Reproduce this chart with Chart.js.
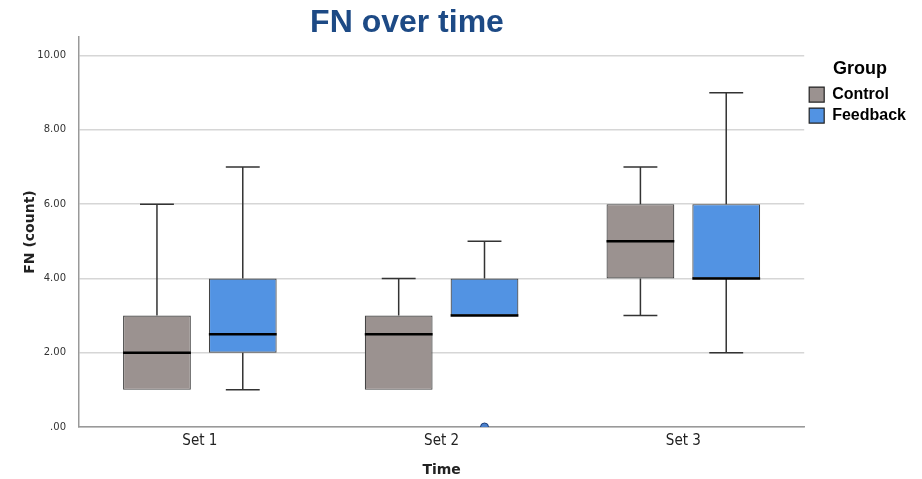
<!DOCTYPE html>
<html>
<head>
<meta charset="utf-8">
<script src="https://cdn.jsdelivr.net/npm/chart.js@4.4.1/dist/chart.umd.min.js"></script>
<style>
  body { margin: 0; background: #fff; }
  #wrap { position: relative; width: 922px; height: 479px; }
  #titre { position: absolute; left: 0; top: 3px; width: 814px; text-align: center;
           font: bold 32px "Liberation Sans", Arial, sans-serif; color: #1d4a85; }
</style>
</head>
<body>
<div id="wrap">
  <div id="titre">FN over time</div>
  <canvas id="boxCanvas" width="922" height="479"></canvas>
</div>
<script>
// Categories et groupes
const categories = ['Set 1', 'Set 2', 'Set 3'];
const groups = ['Control', 'Feedback'];
const groupColors = ['#9b9290', '#5293e3'];

// Statistiques des boites (min, q1, mediane, q3, max) par groupe
const controlMin = [1, 1, 3];
const controlQ1 = [1, 1, 4];
const controlMedian = [2, 2.5, 5];
const controlQ3 = [3, 3, 6];
const controlMax = [6, 4, 7];

const feedbackMin = [1, 3, 2];
const feedbackQ1 = [2, 3, 4];
const feedbackMedian = [2.5, 3, 4];
const feedbackQ3 = [4, 4, 6];
const feedbackMax = [7, 5, 9];

// Valeurs aberrantes : [groupe, categorie, valeur]
const outliers = [[1, 1, 0]];

const yTicks = [0, 2, 4, 6, 8, 10];

const stats = [
  { min: controlMin, q1: controlQ1, med: controlMedian, q3: controlQ3, max: controlMax },
  { min: feedbackMin, q1: feedbackQ1, med: feedbackMedian, q3: feedbackQ3, max: feedbackMax }
];

// Plugin qui dessine moustaches, medianes et points aberrants
const boxPlotPlugin = {
  id: 'boxPlot',
  afterDatasetsDraw(chart) {
    const ctx = chart.ctx;
    const y = chart.scales.y;
    ctx.save();
    chart.data.datasets.forEach((ds, d) => {
      const meta = chart.getDatasetMeta(d);
      const s = stats[d];
      meta.data.forEach((bar, i) => {
        const x = bar.x;
        const half = bar.width / 2;
        const cap = bar.width / 4;
        ctx.strokeStyle = '#333';
        ctx.lineWidth = 1.5;
        ctx.beginPath();
        // moustache haute
        if (s.max[i] > s.q3[i]) {
          ctx.moveTo(x, y.getPixelForValue(s.q3[i]));
          ctx.lineTo(x, y.getPixelForValue(s.max[i]));
          ctx.moveTo(x - cap, y.getPixelForValue(s.max[i]));
          ctx.lineTo(x + cap, y.getPixelForValue(s.max[i]));
        }
        // moustache basse
        if (s.min[i] < s.q1[i]) {
          ctx.moveTo(x, y.getPixelForValue(s.q1[i]));
          ctx.lineTo(x, y.getPixelForValue(s.min[i]));
          ctx.moveTo(x - cap, y.getPixelForValue(s.min[i]));
          ctx.lineTo(x + cap, y.getPixelForValue(s.min[i]));
        }
        ctx.stroke();
        // mediane
        ctx.strokeStyle = '#000';
        ctx.lineWidth = 2.5;
        ctx.beginPath();
        ctx.moveTo(x - half, y.getPixelForValue(s.med[i]));
        ctx.lineTo(x + half, y.getPixelForValue(s.med[i]));
        ctx.stroke();
      });
    });
    // points aberrants
    const a = chart.chartArea;
    ctx.beginPath();
    ctx.rect(a.left, a.top, a.right - a.left, a.bottom - a.top);
    ctx.clip();
    outliers.forEach(o => {
      const bar = chart.getDatasetMeta(o[0]).data[o[1]];
      ctx.beginPath();
      ctx.arc(bar.x, y.getPixelForValue(o[2]), 4, 0, Math.PI * 2);
      ctx.fillStyle = '#4a80cc';
      ctx.fill();
      ctx.strokeStyle = '#1d3f7a';
      ctx.lineWidth = 1;
      ctx.stroke();
    });
    ctx.restore();
  }
};

function makeChart() {
  const ctx = document.getElementById('boxCanvas').getContext('2d');
  new Chart(ctx, {
    type: 'bar',
    data: {
      labels: categories,
      datasets: groups.map((g, d) => ({
        label: g,
        data: categories.map((_, i) => [stats[d].q1[i], stats[d].q3[i]]),
        backgroundColor: groupColors[d],
        borderColor: '#444',
        borderWidth: 1.2,
        borderSkipped: false,
        categoryPercentage: 0.71,
        barPercentage: 0.79
      }))
    },
    options: {
      responsive: false,
      animation: false,
      layout: { padding: { top: 37, left: 0, right: 6, bottom: 0 } },
      plugins: {
        tooltip: { enabled: false },
        legend: {
          position: 'right',
          align: 'start',
          title: {
            display: true,
            text: 'Group',
            color: '#000',
            font: { family: 'Liberation Sans', size: 18, weight: 'bold' },
            padding: { top: 23, bottom: 0 }
          },
          labels: {
            color: '#000',
            font: { family: 'Liberation Sans', size: 16, weight: 'bold' },
            boxWidth: 15,
            boxHeight: 15,
            padding: 5,
            generateLabels(chart) {
              return chart.data.datasets.map((ds, i) => ({
                text: ds.label,
                fillStyle: ds.backgroundColor,
                strokeStyle: '#222',
                lineWidth: 1.2,
                datasetIndex: i
              }));
            }
          }
        }
      },
      scales: {
        x: {
          afterFit(scale) { scale.height = 52; },
          grid: { display: false, drawTicks: false, tickLength: 0 },
          border: { color: '#999', width: 1.5 },
          ticks: { color: '#222', font: { family: 'DejaVu Sans Condensed, DejaVu Sans', size: 15 }, padding: 5 },
          title: { display: true, text: 'Time', color: '#222',
                   font: { family: 'DejaVu Sans', size: 14, weight: 'bold' }, padding: { top: 1, bottom: 0 } }
        },
        y: {
          min: 0,
          max: 10.5,
          afterFit(scale) { scale.width = 79; },
          afterBuildTicks(scale) { scale.ticks = yTicks.map(v => ({ value: v })); },
          grid: { color: '#d6d6d6', lineWidth: 1.5, drawTicks: false },
          border: { color: '#999', width: 1.5 },
          ticks: {
            color: '#333',
            font: { family: 'DejaVu Sans', size: 10 },
            padding: 13,
            callback: v => v === 0 ? '.00' : v.toFixed(2)
          },
          title: { display: true, text: 'FN (count)', color: '#222',
                   font: { family: 'DejaVu Sans', size: 14, weight: 'bold' }, padding: { top: 22, bottom: 8 } }
        }
      }
    },
    plugins: [boxPlotPlugin]
  });
}

makeChart();
</script>
</body>
</html>
